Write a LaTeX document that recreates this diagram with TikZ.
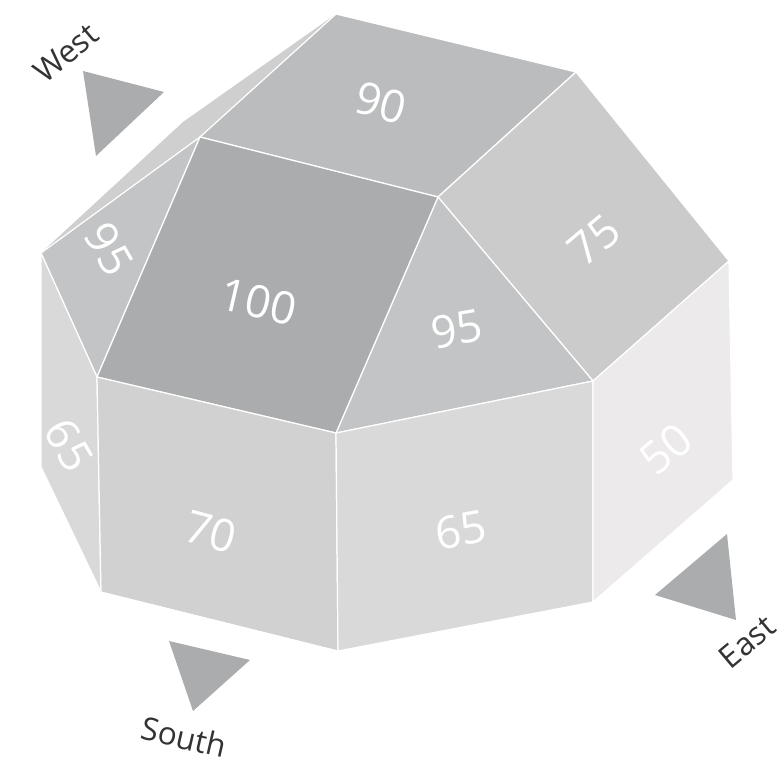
\documentclass[tikz,border=0pt]{standalone}
\usepackage{fontspec}
\setmainfont{Open Sans}
\usetikzlibrary{positioning, calc}

\definecolor{shade100}{HTML}{ABACAE}
\definecolor{shade95}{HTML}{C3C4C5}
\definecolor{shade90}{HTML}{BBBCBE}
\definecolor{shade75}{HTML}{CBCBCC}
\definecolor{shade70}{HTML}{D1D1D2}
\definecolor{shade65}{HTML}{D9D9DA}
\definecolor{shade50}{HTML}{ECEAEB}
\definecolor{shadeRim}{HTML}{CFCFD0}
\definecolor{compassText}{HTML}{333335}

\tikzset{
  face/.style={draw=white, line width=0.7, line join=miter},
  facelabel/.style={text=white, font=\fontsize{25.5}{25.5}\selectfont, inner sep=0pt},
  compassmark/.style={fill=shade100},
  compasslabel/.style={text=compassText, font=\fontsize{18}{18}\selectfont, inner sep=0pt}
}

\begin{document}
\begin{tikzpicture}[x=0.02cm, y=-0.02cm]

      % --- Page Frame ---
      \useasboundingbox (0,0) rectangle (779,767);

      % --- Block Corners ---
      \coordinate (apex) at (336,14);
      \coordinate (roofE) at (576,72);
      \coordinate (roofW) at (200,137);
      \coordinate (roofN) at (438,197);
      \coordinate (rimW) at (183,122);
      \coordinate (upW) at (41,253);
      \coordinate (upS) at (97,377);
      \coordinate (upC) at (336,433);
      \coordinate (upE) at (593,381);
      \coordinate (upR) at (729,261);
      \coordinate (lowW) at (41,467);
      \coordinate (lowS) at (101,592);
      \coordinate (lowC) at (338,651);
      \coordinate (lowE) at (593,602);
      \coordinate (lowR) at (733,480);

      % --- Faces ---
      \fill[shadeRim] (upW) -- (rimW) -- (apex) -- (roofW) -- cycle;
      \draw[face, fill=shade90] (apex) -- (roofE) -- (roofN) -- (roofW) -- cycle;
      \draw[face, fill=shade75] (roofE) -- (upR) -- (upE) -- (roofN) -- cycle;
      \draw[face, fill=shade95] (roofW) -- (upS) -- (upW) -- cycle;
      \draw[face, fill=shade95] (roofN) -- (upE) -- (upC) -- cycle;
      \draw[face, fill=shade100] (roofW) -- (roofN) -- (upC) -- (upS) -- cycle;
      \draw[face, fill=shade65] (upW) -- (upS) -- (lowS) -- (lowW) -- cycle;
      \draw[face, fill=shade70] (upS) -- (upC) -- (lowC) -- (lowS) -- cycle;
      \draw[face, fill=shade65] (upC) -- (upE) -- (lowE) -- (lowC) -- cycle;
      \draw[face, fill=shade50] (upE) -- (upR) -- (lowR) -- (lowE) -- cycle;

      % --- Face Values ---
      \node[facelabel, rotate=-15] (val90) at (381,103) {90};
      \node[facelabel, rotate=-13] (val100) at (259,302) {100};
      \node[facelabel, rotate=-60] (val95w) at (109,249) {95};
      \node[facelabel, rotate=10] (val95e) at (457,329) {95};
      \node[facelabel, rotate=40] (val75) at (594,240) {75};
      \node[facelabel, rotate=-60] (val65w) at (69,445) {65};
      \node[facelabel, rotate=-15] (val70) at (211,532) {70};
      \node[facelabel, rotate=10] (val65s) at (461,530) {65};
      \node[facelabel, rotate=40] (val50) at (666,449) {50};

      % --- Compass Marks ---
      \fill[compassmark] (83,71) -- (164,92) -- (96,156) -- cycle;
      \fill[compassmark] (169,641) -- (250,660) -- (193,711) -- cycle;
      \fill[compassmark] (727,534) -- (736,620) -- (655,595) -- cycle;

      \node[compasslabel, rotate=40] (west) at (66,53) {West};
      \node[compasslabel, rotate=-13] (south) at (184,737) {South};
      \node[compasslabel, rotate=40] (east) at (747,642) {East};

\end{tikzpicture}
\end{document}
